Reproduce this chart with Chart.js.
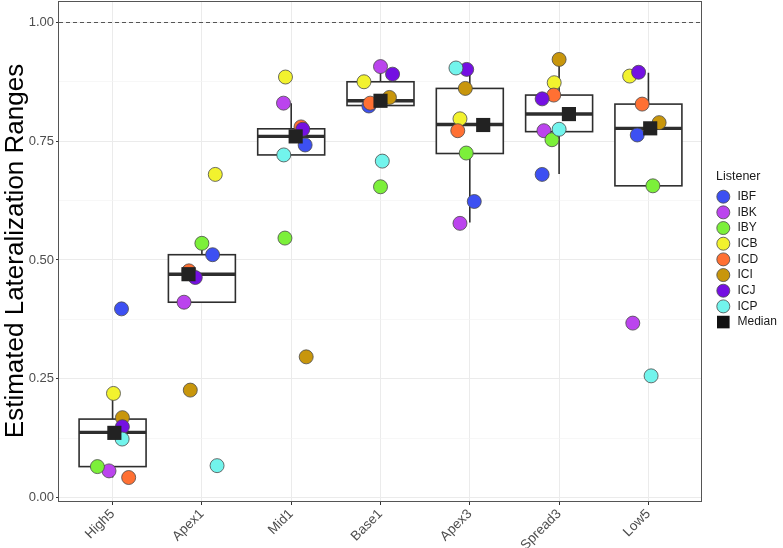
<!DOCTYPE html>
<html>
<head>
<meta charset="utf-8">
<script src="https://cdn.jsdelivr.net/npm/chart.js@4.4.1/dist/chart.umd.min.js"></script>
<style>
  html, body { margin: 0; padding: 0; background: #ffffff; }
  #wrap { width: 783px; height: 548px; }
</style>
</head>
<body>
<div id="wrap"><canvas id="c" width="783" height="548"></canvas></div>
<script>
// ---------- data ----------
const categories = ['High5', 'Apex1', 'Mid1', 'Base1', 'Apex3', 'Spread3', 'Low5'];
const listeners = ['IBF', 'IBK', 'IBY', 'ICB', 'ICD', 'ICI', 'ICJ', 'ICP'];
const listenerColors = ['#3D50F2', '#BB44EE', '#7CF03A', '#F2F22E', '#FF7033', '#C8960C', '#7410E2', '#72F4EC'];

// lateralization range per listener, one value per category
const IBF = [0.397, 0.511, 0.742, 0.824, 0.623, 0.680, 0.763];
const IBK = [0.056, 0.411, 0.830, 0.907, 0.577, 0.772, 0.367];
const IBY = [0.065, 0.535, 0.546, 0.654, 0.725, 0.753, 0.656];
const ICB = [0.219, 0.680, 0.885, 0.875, 0.797, 0.873, 0.887];
const ICD = [0.042, 0.477, 0.780, 0.830, 0.772, 0.847, 0.828];
const ICI = [0.168, 0.226, 0.296, 0.842, 0.861, 0.922, 0.789];
const ICJ = [0.149, 0.463, 0.775, 0.891, 0.901, 0.839, 0.895];
const ICP = [0.123, 0.067, 0.721, 0.708, 0.904, 0.775, 0.256];
const listenerValues = [IBF, IBK, IBY, ICB, ICD, ICI, ICJ, ICP];

// horizontal jitter of each point (category units)
const jIBF = [0.10, 0.12, 0.156, -0.13, 0.05, -0.19, -0.125];
const jIBK = [-0.04, -0.20, -0.086, 0.0, -0.11, -0.17, -0.175];
const jIBY = [-0.17, 0.0, -0.07, 0.0, -0.04, -0.08, 0.05];
const jICB = [0.01, 0.15, -0.064, -0.185, -0.11, -0.055, -0.21];
const jICD = [0.18, -0.145, 0.11, -0.115, -0.135, -0.06, -0.07];
const jICI = [0.11, -0.13, 0.168, 0.10, -0.05, 0.0, 0.12];
const jICJ = [0.11, -0.074, 0.13, 0.135, -0.035, -0.19, -0.11];
const jICP = [0.107, 0.17, -0.083, 0.02, -0.155, 0.0, 0.03];
const listenerJitter = [jIBF, jIBK, jIBY, jICB, jICD, jICI, jICJ, jICP];

// box-plot statistics per category
const boxQ1 = [0.065, 0.411, 0.721, 0.825, 0.724, 0.770, 0.656];
const boxMedian = [0.137, 0.470, 0.760, 0.835, 0.785, 0.807, 0.777];
const boxQ3 = [0.165, 0.511, 0.776, 0.875, 0.861, 0.847, 0.828];
const whiskerLow = [0.042, 0.411, 0.721, 0.825, 0.579, 0.681, 0.656];
const whiskerHigh = [0.219, 0.535, 0.830, 0.906, 0.901, 0.921, 0.894];

// median markers (value + jitter)
const medianValues = [0.136, 0.470, 0.760, 0.835, 0.784, 0.807, 0.777];
const medianJitter = [0.02, -0.15, 0.05, 0.0, 0.15, 0.11, 0.02];

// y tick values
const yMajorTicks = [0, 0.25, 0.5, 0.75, 1.0];
const yMinorTicks = [0.125, 0.375, 0.625, 0.875];
const referenceLine = 1.0;

// ---------- chart ----------
const FONT = "'Liberation Sans', Arial, Helvetica, sans-serif";
const isMajor = v => yMajorTicks.some(m => Math.abs(m - v) < 1e-6);

const datasets = listeners.map((name, li) => ({
  label: name,
  type: 'scatter',
  data: categories.map((c, ci) => ({ x: ci + 1 + listenerJitter[li][ci], y: listenerValues[li][ci] })),
  backgroundColor: listenerColors[li],
  borderColor: '#4a4a4a',
  borderWidth: 0.8,
  pointRadius: 7,
  pointHoverRadius: 7,
  order: 20 - li
}));
datasets.push({
  label: 'Median',
  type: 'scatter',
  data: categories.map((c, ci) => ({ x: ci + 1 + medianJitter[ci], y: medianValues[ci] })),
  backgroundColor: '#222222',
  borderColor: '#222222',
  borderWidth: 0,
  pointStyle: 'rect',
  pointRadius: 10,
  pointHoverRadius: 10,
  order: 0
});

const boxPlugin = {
  id: 'boxes',
  beforeDatasetsDraw(chart) {
    const { ctx, chartArea: a, scales: { x, y } } = chart;
    ctx.save();
    // reference dashed line
    ctx.strokeStyle = '#555555';
    ctx.lineWidth = 1;
    ctx.setLineDash([4, 3]);
    const yr = Math.round(y.getPixelForValue(referenceLine)) + 0.5;
    ctx.beginPath(); ctx.moveTo(a.left, yr); ctx.lineTo(a.right, yr); ctx.stroke();
    ctx.setLineDash([]);
    // boxes
    const half = 0.375;
    ctx.strokeStyle = '#2e2e2e';
    categories.forEach((c, i) => {
      const xc = x.getPixelForValue(i + 1);
      const xl = x.getPixelForValue(i + 1 - half);
      const xr = x.getPixelForValue(i + 1 + half);
      const yq1 = y.getPixelForValue(boxQ1[i]);
      const yq3 = y.getPixelForValue(boxQ3[i]);
      const ym = y.getPixelForValue(boxMedian[i]);
      const ylo = y.getPixelForValue(whiskerLow[i]);
      const yhi = y.getPixelForValue(whiskerHigh[i]);
      ctx.lineWidth = 1.6;
      ctx.beginPath();
      ctx.moveTo(xc, yq3); ctx.lineTo(xc, yhi);
      ctx.moveTo(xc, yq1); ctx.lineTo(xc, ylo);
      ctx.stroke();
      ctx.fillStyle = '#ffffff';
      ctx.fillRect(xl, yq3, xr - xl, yq1 - yq3);
      ctx.strokeRect(xl, yq3, xr - xl, yq1 - yq3);
      ctx.lineWidth = 3.4;
      ctx.beginPath(); ctx.moveTo(xl, ym); ctx.lineTo(xr, ym); ctx.stroke();
    });
    ctx.restore();
  },
  afterDraw(chart) {
    const { ctx, chartArea: a } = chart;
    ctx.save();
    // panel border
    ctx.strokeStyle = '#555555';
    ctx.lineWidth = 1;
    ctx.strokeRect(Math.round(a.left) - 0.5, Math.round(a.top) + 0.5, Math.round(a.right - a.left), Math.round(a.bottom - a.top));
    // legend
    const lx = 716, cx = 723.3, tx = 737.5, y0 = 196.7, dy = 15.67;
    ctx.fillStyle = '#1a1a1a';
    ctx.font = '12.5px ' + FONT;
    ctx.textBaseline = 'middle';
    ctx.textAlign = 'left';
    ctx.fillText('Listener', lx, 177);
    ctx.font = '12px ' + FONT;
    listeners.forEach((name, i) => {
      const yy = y0 + i * dy;
      ctx.beginPath();
      ctx.arc(cx, yy, 6.5, 0, Math.PI * 2);
      ctx.fillStyle = listenerColors[i];
      ctx.fill();
      ctx.lineWidth = 0.8;
      ctx.strokeStyle = '#4a4a4a';
      ctx.stroke();
      ctx.fillStyle = '#1a1a1a';
      ctx.fillText(name, tx, yy);
    });
    const ym = y0 + listeners.length * dy;
    ctx.fillStyle = '#111111';
    ctx.fillRect(cx - 6.3, ym - 6.3, 12.6, 12.6);
    ctx.fillStyle = '#1a1a1a';
    ctx.fillText('Median', tx, ym);
    ctx.restore();
  }
};

new Chart(document.getElementById('c'), {
  data: { datasets },
  options: {
    responsive: false,
    animation: false,
    devicePixelRatio: 1,
    layout: { autoPadding: false, padding: { top: 1, right: 81, left: 0, bottom: 0 } },
    plugins: { legend: { display: false }, tooltip: { enabled: false } },
    scales: {
      x: {
        type: 'linear',
        min: 0.4,
        max: 7.6,
        afterBuildTicks: s => { s.ticks = categories.map((c, i) => ({ value: i + 1 })); },
        afterFit: s => { s.height = 47; s.paddingLeft = 0; s.paddingRight = 0; },
        border: { display: false },
        grid: { color: '#ebebeb', lineWidth: 1, tickLength: 4, tickColor: '#333333', drawTicks: true },
        ticks: {
          autoSkip: false,
          maxRotation: 45,
          minRotation: 45,
          padding: 1,
          color: '#4d4d4d',
          font: { family: FONT, size: 13.5 },
          callback: v => categories[Math.round(v) - 1]
        }
      },
      y: {
        type: 'linear',
        min: -0.0074,
        max: 1.045,
        afterBuildTicks: s => { s.ticks = yMajorTicks.concat(yMinorTicks).sort((p, q) => p - q).map(v => ({ value: v })); },
        afterFit: s => { s.width = 59; s.paddingTop = 0; s.paddingBottom = 0; },
        border: { display: false },
        grid: {
          color: c => isMajor(c.tick.value) ? '#ebebeb' : '#f4f4f4',
          lineWidth: c => isMajor(c.tick.value) ? 1 : 0.7,
          tickColor: c => isMajor(c.tick.value) ? '#333333' : 'rgba(0,0,0,0)',
          tickLength: 3,
          drawTicks: true
        },
        ticks: {
          autoSkip: false,
          padding: 2,
          color: '#4d4d4d',
          font: { family: FONT, size: 13 },
          callback: v => isMajor(v) ? v.toFixed(2) : ''
        },
        title: {
          display: true,
          text: 'Estimated Lateralization Ranges',
          color: '#000000',
          font: { family: FONT, size: 26 },
          padding: { top: 0, bottom: 0 }
        }
      }
    }
  },
  plugins: [boxPlugin]
});
</script>
</body>
</html>
